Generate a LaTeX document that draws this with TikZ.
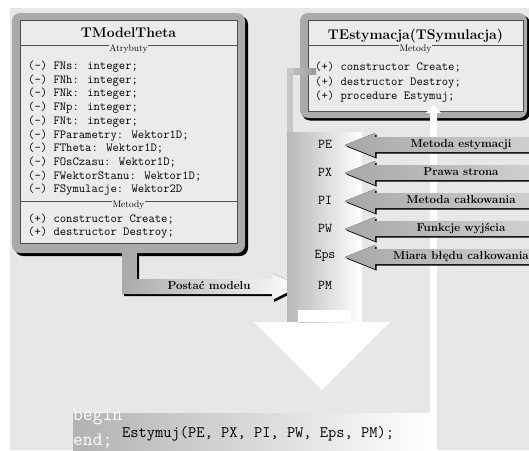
\documentclass[tikz,border=0pt]{standalone}
\definecolor{bggray}{HTML}{E7E7E7}
\definecolor{framegray}{HTML}{AAAAAA}
\definecolor{boxfill}{HTML}{EBEBEB}
\definecolor{boxline}{HTML}{505050}
\tikzset{
  classtext/.style={anchor=base west, inner sep=0pt, font=\fontsize{12.3}{13}\selectfont\ttfamily},
  sectlabel/.style={anchor=base, fill=boxfill, inner sep=0.6pt, font=\fontsize{9.5}{10}\selectfont},
  classtitle/.style={anchor=base, inner sep=0pt, font=\fontsize{14}{16}\selectfont\bfseries},
  paramlabel/.style={anchor=base, inner sep=0pt, font=\fontsize{13.5}{14}\selectfont\ttfamily},
  arrowlabel/.style={anchor=base, inner sep=0pt, font=\fontsize{11.5}{12}\selectfont\bfseries},
  codetext/.style={anchor=base west, inner sep=0pt, font=\fontsize{16}{17}\selectfont\ttfamily},
  codekw/.style={anchor=base west, inner sep=0pt, text=white, font=\fontsize{19}{20}\selectfont\ttfamily},
  frame/.style={fill=framegray, rounded corners=8pt},
  shadowfill/.style={fill=black, rounded corners=8pt},
  classbox/.style={fill=boxfill, draw=boxline, line width=0.9pt},
  sepline/.style={draw=boxline, line width=0.9pt},
  inarrow/.style={left color=black!34, right color=black!18},
}
\begin{document}
\begin{tikzpicture}[x=1pt,y=-1pt]
\useasboundingbox (0,0) rectangle (529,450);
% background panel
\fill[bggray] (10,8) rectangle (529,450);

% ---------- TModelTheta ----------
% shadow of the connector bar leaving the class
\fill[black] (124,250) rectangle (139,296) (124,281) rectangle (274,296)
  (274,275) -- (302,288) -- (274,302) -- cycle;
\fill[shadowfill] (15,16) rectangle (248,256);
\fill[frame] (12,13) rectangle (245,253);
\draw[classbox] (20,20) rectangle (237,243);
\draw[sepline] (20,45) -- (237,45);
\draw[sepline] (20,201) -- (237,201);
\node[classtitle] (mtitle) at (128.5,37) {TModelTheta};
\node[sectlabel] (matr) at (128.5,51.5) {Atrybuty};
\node[classtext] (m1) at (28,69.5) {(-) FNs: integer;};
\node[classtext] (m2) at (28,83.2) {(-) FNh: integer;};
\node[classtext] (m3) at (28,96.9) {(-) FNk: integer;};
\node[classtext] (m4) at (28,110.6) {(-) FNp: integer;};
\node[classtext] (m5) at (28,124.3) {(-) FNt: integer;};
\node[classtext] (m6) at (28,138.0) {(-) FParametry: Wektor1D;};
\node[classtext] (m7) at (28,151.7) {(-) FTheta: Wektor1D;};
\node[classtext] (m8) at (28,165.4) {(-) FOsCzasu: Wektor1D;};
\node[classtext] (m9) at (28,179.1) {(-) FWektorStanu: Wektor1D;};
\node[classtext] (m10) at (28,192.8) {(-) FSymulacje: Wektor2D};
\node[sectlabel] (mmet) at (128.5,207.5) {Metody};
\node[classtext] (mc) at (28,222) {(+) constructor Create;};
\node[classtext] (md) at (28,235) {(+) destructor Destroy;};

% connector bar "Postac modelu"
\fill[framegray] (122,248) rectangle (137,294);
\fill[left color=framegray, right color=white]
  (122,279) -- (272,279) -- (272,273) -- (300,286) -- (272,300) -- (272,294) -- (122,294) -- cycle;
\node[arrowlabel] (postac) at (209,289) {Postać modelu};

% ---------- TEstymacja(TSymulacja) ----------
\fill[shadowfill] (302,15.5) rectangle (530,120.5);
\fill[frame] (300,13) rectangle (527,118);
\draw[classbox] (308,20) rectangle (523,111);
\draw[sepline] (308,45) -- (523,45);
\node[classtitle] (etitle) at (415.5,39) {TEstymacja(TSymulacja)};
\node[sectlabel] (emet) at (415.5,51.5) {Metody};
\node[classtext] (e1) at (315,70.7) {(+) constructor Create;};
\node[classtext] (e2) at (315,85) {(+) destructor Destroy;};
\node[classtext] (e3) at (315,99.5) {(+) procedure Estymuj;};

% parameter column fed by the constructor
\fill[left color=black!22, right color=black!40] (287,68) rectangle (316,74);
\fill[black!22] (287,68) rectangle (293,134);
\fill[left color=black!28, right color=white] (287,132) rectangle (362,322);

% big white arrow pointing down to the call
\fill[white] (298,310) rectangle (351,323)
  (254,322) -- (390,322) -- (322,390) -- cycle;

\node[paramlabel] (pe) at (325,148.5) {PE};
\node[paramlabel] (px) at (325,176.5) {PX};
\node[paramlabel] (pi) at (325,204.5) {PI};
\node[paramlabel] (pw) at (325,232.5) {PW};
\node[paramlabel] (eps) at (325,258) {Eps};
\node[paramlabel] (pm) at (325,289) {PM};

% call of the procedure
\fill[left color=black!30, right color=white] (73,413) rectangle (430,452);
\node[codekw] (kbeg) at (73,420) {begin};
\node[codetext] (call) at (122,437) {Estymuj(PE, PX, PI, PW, Eps, PM);};
\node[codekw] (kend) at (73,445.5) {end;};

% white arrow from the call up to Estymuj
\fill[white] (430,113) rectangle (437,452)
  (426,113) -- (441,113) -- (433.5,105) -- cycle;

% input arrows coming from the right
\foreach \t/\lab/\nm in {145/Metoda estymacji/a1, 173/Prawa strona/a2,
    201/Metoda całkowania/a3, 229/Funkcje wyjścia/a4,
    257/Miara błędu całkowania/a5}{
  \fill[black] (346.5,\t+1.5) -- (376.5,\t-10.5) -- (376.5,\t-6.5) -- (540,\t-6.5)
    -- (540,\t+8.5) -- (376.5,\t+8.5) -- (376.5,\t+13.5) -- cycle;
  \fill[inarrow] (345,\t) -- (375,\t-12) -- (375,\t-8) -- (540,\t-8)
    -- (540,\t+7) -- (375,\t+7) -- (375,\t+12) -- cycle;
  \node[arrowlabel] (\nm) at (461,\t+2) {\lab};
}
\end{tikzpicture}
\end{document}
